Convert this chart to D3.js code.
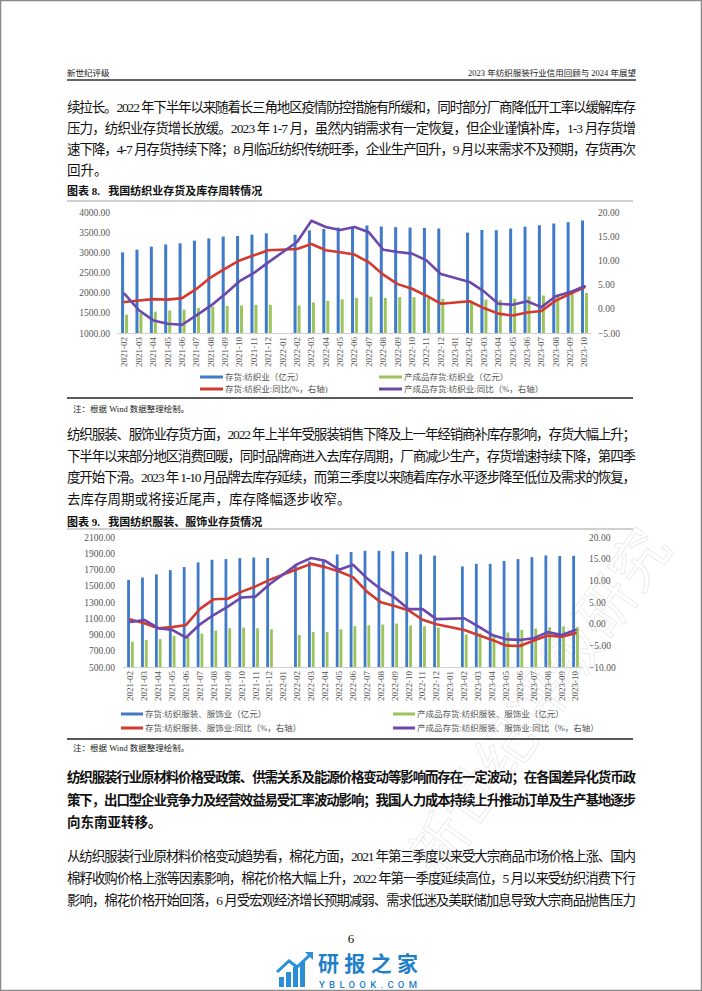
<!DOCTYPE html>
<html><head><meta charset="utf-8">
<script src="https://cdn.jsdelivr.net/npm/d3@7"></script>
<style>
html,body{margin:0;padding:0;background:#fff;}
svg{display:block;}
</style></head>
<body>
<svg id="page" width="702" height="991"></svg>
<script>
// ---------- DATA ----------
const categories = ["2021-02","2021-03","2021-04","2021-05","2021-06","2021-07","2021-08","2021-09","2021-10","2021-11","2021-12","2022-01",
"2022-02","2022-03","2022-04","2022-05","2022-06","2022-07","2022-08","2022-09","2022-10","2022-11","2022-12","2023-01",
"2023-02","2023-03","2023-04","2023-05","2023-06","2023-07","2023-08","2023-09","2023-10"];

// Chart 1: 纺织业
const textileInventory = [3000,3065,3140,3195,3225,3290,3345,3390,3405,3440,3470,null,
3435,3545,3580,3615,3635,3665,3640,3625,3615,3605,3590,null,
3490,3555,3550,3590,3635,3670,3715,3750,3790];
const textileFinished = [1455,1490,1530,1560,1580,1620,1655,1670,1680,1700,1700,null,
1680,1760,1795,1835,1868,1900,1868,1890,1890,1868,1845,null,
1800,1826,1818,1850,1905,1930,1950,1975,1995];
const textileInvYoY = [1.4,1.7,2.0,1.9,2.2,4.1,6.5,8.3,10.0,11.05,12.1,null,
12.35,13.4,12.1,11.7,11.2,9.6,7.05,5.1,4.15,2.7,1.05,null,
1.55,0.15,-1.0,-1.4,-0.75,-0.45,1.7,3.1,4.45];
const textileFinYoY = [3.1,-0.3,-2.4,-3.1,-3.3,-1.35,0.65,3.05,5.7,7.4,9.6,null,
13.8,18.2,16.9,16.3,16.9,15.8,12.2,11.75,11.4,10.0,7.2,null,
5.55,3.6,1.05,0.85,1.55,0.35,2.6,3.45,4.65];

// Chart 2: 纺织服装、服饰业
const apparelInventory = [1572,1602,1640,1692,1730,1787,1820,1828,1840,1848,1842,null,
1765,1800,1820,1885,1915,1930,1930,1926,1915,1886,1870,null,
1738,1770,1770,1804,1828,1852,1873,1865,1868];
const apparelFinished = [810,833,845,882,872,912,948,977,985,977,965,null,
895,932,932,965,1002,1012,1022,1035,1010,1002,985,null,
900,915,895,924,957,973,990,998,990];
const apparelInvYoY = [0.95,0.1,-1.05,-0.8,-0.3,3.4,5.65,5.75,7.4,8.6,10.1,null,
12.6,13.8,13.05,12.05,10.75,7.4,4.95,4.1,3.05,0.9,-0.15,null,
-1.45,-2.6,-3.75,-5.05,-5.15,-3.9,-2.75,-3.0,-2.2];
const apparelFinYoY = [0.4,0.85,-1.05,-1.45,-3.2,-0.15,2.05,3.95,6.05,6.25,9.1,null,
13.75,15.15,14.5,12.45,13.6,10.5,7.95,6.05,3.35,3.35,1.05,null,
1.25,-0.65,-2.6,-3.6,-3.75,-3.35,-1.95,-2.6,-1.45];

const leftTicks1 = [1000,1500,2000,2500,3000,3500,4000];
const rightTicks1 = [-5,0,5,10,15,20];
const leftTicks2 = [500,700,900,1100,1300,1500,1700,1900,2100];
const rightTicks2 = [-10,-5,0,5,10,15,20];

const legend1 = ["存货:纺织业（亿元）","产成品存货:纺织业（亿元）","存货:纺织业:同比(%，右轴)","产成品存货:纺织业:同比（%，右轴）"];
const legend2 = ["存货:纺织服装、服饰业（亿元）","产成品存货:纺织服装、服饰业（亿元）","存货:纺织服装、服饰业:同比（%，右轴）","产成品存货:纺织服装、服饰业:同比（%，右轴）"];

// ---------- STYLE ----------
const C = {blue:"#3f7bc8", green:"#9bc45a", red:"#d23a2f", purple:"#6c48ad", axis:"#d0d0d0", tick:"#555"};
const CJK = "'Noto Sans CJK SC', sans-serif";
const SERIF = "'Liberation Serif', 'Noto Sans CJK SC', serif";
const MIX = "'Liberation Serif', 'Noto Sans CJK SC', serif";

const svg = d3.select("#page");
svg.append("rect").attr("width",702).attr("height",991).attr("fill","#fff");
svg.append("rect").attr("x",0.5).attr("y",0.5).attr("width",701).attr("height",990)
  .attr("fill","none").attr("stroke","#8a8a8a").attr("stroke-width",1.5);

// header
svg.append("text").attr("x",67).attr("y",76).attr("font-family",CJK).attr("font-size",8.5).attr("fill","#222").text("新世纪评级");
svg.append("text").attr("x",636).attr("y",76).attr("text-anchor","end").attr("font-family",MIX).attr("font-size",8.5).attr("fill","#222")
  .text("2023 年纺织服装行业信用回顾与 2024 年展望");
svg.append("line").attr("x1",67).attr("x2",636).attr("y1",80).attr("y2",80).attr("stroke","#333").attr("stroke-width",1.5);

function para(lines, startY, lh, opts={}){
  lines.forEach((t,i)=>{
    const full = opts.lastShort ? i < lines.length-1 : true;
    const el = svg.append("text").attr("x",67).attr("y",startY+i*lh)
      .attr("font-family",MIX).attr("font-size",opts.size||13.5)
      .attr("font-weight",opts.bold?700:400).attr("fill","#111").text(t);
    if(full){ el.attr("textLength",569).attr("lengthAdjust","spacing"); }
  });
}

para(["续拉长。2022 年下半年以来随着长三角地区疫情防控措施有所缓和，同时部分厂商降低开工率以缓解库存",
"压力，纺织业存货增长放缓。2023 年 1-7 月，虽然内销需求有一定恢复，但企业谨慎补库，1-3 月存货增",
"速下降，4-7 月存货持续下降；8 月临近纺织传统旺季，企业生产回升，9 月以来需求不及预期，存货再次",
"回升。"], 112, 21, {lastShort:true});

svg.append("text").attr("x",67).attr("y",195).attr("font-family",MIX).attr("font-size",11).attr("font-weight",700).attr("fill","#111")
  .attr("xml:space","preserve").text("图表 8.   我国纺织业存货及库存周转情况");

para(["纺织服装、服饰业存货方面，2022 年上半年受服装销售下降及上一年经销商补库存影响，存货大幅上升；",
"下半年以来部分地区消费回暖，同时品牌商进入去库存周期，厂商减少生产，存货增速持续下降，第四季",
"度开始下滑。2023 年 1-10 月品牌去库存延续，而第三季度以来随着库存水平逐步降至低位及需求的恢复，",
"去库存周期或将接近尾声，库存降幅逐步收窄。"], 439, 21.7, {lastShort:true});

svg.append("text").attr("x",67).attr("y",526).attr("font-family",MIX).attr("font-size",11).attr("font-weight",700).attr("fill","#111")
  .attr("xml:space","preserve").text("图表 9.   我国纺织服装、服饰业存货情况");

// watermark
svg.append("text").attr("transform","translate(440,880) rotate(-55)")
  .attr("font-family",CJK).attr("font-size",58).attr("fill","none").attr("stroke","#ececec").attr("stroke-width",1)
  .text("新世纪评级研究");

para(["纺织服装行业原材料价格受政策、供需关系及能源价格变动等影响而存在一定波动；在各国差异化货币政",
"策下，出口型企业竞争力及经营效益易受汇率波动影响；我国人力成本持续上升推动订单及生产基地逐步",
"向东南亚转移。"], 782, 22.5, {lastShort:true, bold:true});

para(["从纺织服装行业原材料价格变动趋势看，棉花方面，2021 年第三季度以来受大宗商品市场价格上涨、国内",
"棉籽收购价格上涨等因素影响，棉花价格大幅上升，2022 年第一季度延续高位，5 月以来受纺织消费下行",
"影响，棉花价格开始回落，6 月受宏观经济增长预期减弱、需求低迷及美联储加息导致大宗商品抛售压力"], 861, 22, {});

svg.append("text").attr("x",351).attr("y",943).attr("text-anchor","middle").attr("font-family",SERIF).attr("font-size",13).attr("fill","#111").text("6");

// ---------- CHART ----------
function drawChart(o){
  const g = svg.append("g");
  g.append("line").attr("x1",67).attr("x2",633).attr("y1",o.frameTop).attr("y2",o.frameTop).attr("stroke","#a0a0a0").attr("stroke-width",1);
  const x = d3.scaleBand().domain(categories).range(o.xRange).padding(0);
  const yL = d3.scaleLinear().domain([o.leftTicks[0], o.leftTicks[o.leftTicks.length-1]]).range([o.yBottom,o.yTop]);
  const yR = d3.scaleLinear().domain([o.rightTicks[0], o.rightTicks[o.rightTicks.length-1]]).range([o.yBottom,o.yTop]);
  const cx = c => x(c) + x.bandwidth()/2;

  const la = g.append("g").attr("transform",`translate(${o.leftLabelX+4},0)`)
    .call(d3.axisLeft(yL).tickValues(o.leftTicks).tickFormat(d3.format(".2f")).tickSize(0).tickPadding(4));
  la.select(".domain").remove();
  la.selectAll("text").attr("font-family",SERIF).attr("font-size",9.5).attr("fill",C.tick);
  const ra = g.append("g").attr("transform",`translate(${o.rightLabelX-4},0)`)
    .call(d3.axisRight(yR).tickValues(o.rightTicks).tickFormat(d3.format(".2f")).tickSize(0).tickPadding(4));
  ra.select(".domain").remove();
  ra.selectAll("text").attr("font-family",SERIF).attr("font-size",9.5).attr("fill",C.tick);

  const bw = o.barW;
  g.selectAll(".b1").data(categories.map((c,i)=>({c,v:o.bar1[i]})).filter(d=>d.v!=null)).join("rect")
    .attr("x",d=>cx(d.c)-bw-0.5).attr("width",bw).attr("y",d=>yL(d.v)).attr("height",d=>yL.range()[0]-yL(d.v)).attr("fill",C.blue);
  g.selectAll(".b2").data(categories.map((c,i)=>({c,v:o.bar2[i]})).filter(d=>d.v!=null)).join("rect")
    .attr("x",d=>cx(d.c)+0.5).attr("width",bw).attr("y",d=>yL(d.v)).attr("height",d=>yL.range()[0]-yL(d.v)).attr("fill",C.green);

  g.append("line").attr("x1",o.xRange[0]).attr("x2",o.xRange[1]).attr("y1",o.yBottom+0.5).attr("y2",o.yBottom+0.5).attr("stroke",C.axis).attr("stroke-width",1);

  const line = d3.line().x(d=>cx(d.c)).y(d=>yR(d.v));
  [[o.line1,C.red],[o.line2,C.purple]].forEach(([arr,col])=>{
    const pts = categories.map((c,i)=>({c,v:arr[i]})).filter(d=>d.v!=null);
    g.append("path").datum(pts).attr("d",line).attr("fill","none").attr("stroke",col)
      .attr("stroke-width",2.6).attr("stroke-linejoin","round").attr("stroke-linecap","round");
  });

  const xa = g.append("g").attr("transform",`translate(0,${o.yBottom})`)
    .call(d3.axisBottom(x).tickSize(0).tickPadding(0));
  xa.select(".domain").remove();
  xa.selectAll("text").attr("font-family",SERIF).attr("font-size",9).attr("fill",C.tick)
    .attr("text-anchor","end").attr("dy","0.32em").attr("transform","translate(0,4) rotate(-90)").attr("x",0).attr("y",0);

  const cols = [C.blue,C.green,C.red,C.purple];
  o.legend.forEach((t,i)=>{
    const lx = i%2===0 ? o.legX[0] : o.legX[1];
    const ly = o.legY[Math.floor(i/2)];
    g.append("rect").attr("x",lx).attr("y",ly-1.5).attr("width",o.legW).attr("height",3).attr("fill",cols[i]);
    g.append("text").attr("x",lx+o.legW+2).attr("y",ly).attr("dy","0.35em").attr("font-family",MIX).attr("font-size",8.5).attr("fill",C.tick).text(t);
  });

  g.append("line").attr("x1",67).attr("x2",633).attr("y1",o.ruleY).attr("y2",o.ruleY).attr("stroke","#222").attr("stroke-width",1.3);
  g.append("text").attr("x",73).attr("y",o.noteY).attr("dy","0.35em").attr("font-family",MIX).attr("font-size",8.5).attr("fill","#222")
    .text("注：根据 Wind 数据整理绘制。");
}

drawChart({frameTop:201, xRange:[117.4,591.7], yTop:212, yBottom:333, leftTicks:leftTicks1, rightTicks:rightTicks1,
  leftLabelX:110, rightLabelX:598, barW:3,
  bar1:textileInventory, bar2:textileFinished, line1:textileInvYoY, line2:textileFinYoY,
  legend:legend1, legX:[200,379], legW:23, legY:[377,389], ruleY:398, noteY:409});

drawChart({frameTop:529, xRange:[123.5,582.5], yTop:537, yBottom:667, leftTicks:leftTicks2, rightTicks:rightTicks2,
  leftLabelX:115, rightLabelX:589, barW:2.8,
  bar1:apparelInventory, bar2:apparelFinished, line1:apparelInvYoY, line2:apparelFinYoY,
  legend:legend2, legX:[121,393], legW:22, legY:[714,728], ruleY:739, noteY:748});

// ---------- LOGO ----------
const logo = svg.append("g");
const icoBars = [[279,977,5,10],[286,972,5,15],[293,967,5,20],[300,962,5,25]];
icoBars.forEach(b=>logo.append("rect").attr("x",b[0]).attr("y",b[1]).attr("width",b[2]).attr("height",b[3]).attr("fill","#2a8fd6"));
logo.append("path").attr("d","M277,972 L289,961 L297,967 L311,954").attr("fill","none").attr("stroke","#2a8fd6").attr("stroke-width",3);
logo.append("path").attr("d","M305,952 L313,952 L313,960 Z").attr("fill","#2a8fd6");
logo.append("text").attr("x",318).attr("y",971).attr("font-family",CJK).attr("font-size",21).attr("font-weight",700).attr("fill","#1f7fc8")
  .attr("textLength",100).text("研报之家");
logo.append("text").attr("x",319).attr("y",988).attr("font-family","'Roboto', sans-serif").attr("font-size",9.5).attr("font-weight",500).attr("fill","#1f7fc8")
  .attr("textLength",98).text("YBLOOK.COM");
</script>
</body></html>
